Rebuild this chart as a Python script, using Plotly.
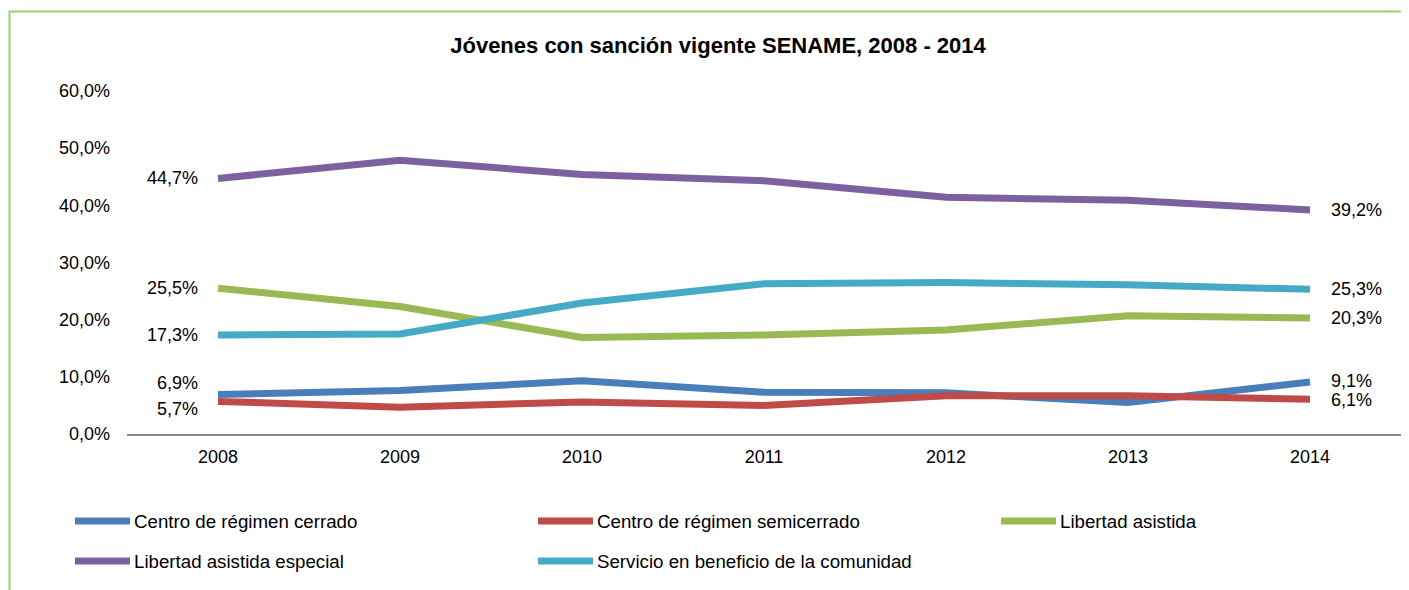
import plotly.graph_objects as go

years = ["2008", "2009", "2010", "2011", "2012", "2013", "2014"]
names = ["Centro de régimen cerrado", "Centro de régimen semicerrado", "Libertad asistida",
         "Libertad asistida especial", "Servicio en beneficio de la comunidad"]
cerrado = [6.9, 7.6, 9.3, 7.3, 7.2, 5.5, 9.1]
semicerrado = [5.7, 4.7, 5.6, 5.0, 6.7, 6.7, 6.1]
libertad = [25.5, 22.3, 16.9, 17.3, 18.2, 20.7, 20.3]
libertad_esp = [44.7, 47.9, 45.4, 44.3, 41.4, 40.9, 39.2]
servicio = [17.3, 17.5, 22.9, 26.3, 26.5, 26.1, 25.3]
series = [cerrado, semicerrado, libertad, libertad_esp, servicio]
colors = ["#4A7EBB", "#BE4B48", "#98B954", "#7D60A0", "#46AAC5"]
y_ticks = [0, 10, 20, 30, 40, 50, 60]
title = "Jóvenes con sanción vigente SENAME, 2008 - 2014"

FONT = "Liberation Sans, Arial, sans-serif"
OFF = 8  # page body margin
W, H = 1401, 582
L, R = 127 - OFF, W - (1401 - OFF)
T = 91 - OFF
B = H - (434 - OFF)
pw, ph = W - L - R, H - T - B

def px2paper_x(px):
    return (px - OFF - L) / pw

def px2paper_y(py):
    return (H - B - (py - OFF)) / ph

def fmt(v):
    return f"{v:.1f}".replace(".", ",") + "%"

fig = go.Figure()
for name, vals, col in zip(names, series, colors):
    fig.add_trace(go.Scatter(x=years, y=vals, mode="lines", name=name,
                             line=dict(color=col, width=7), showlegend=False))

annotations = []
# start/end value labels (x given as category index)
start_shift = [12, -8, 0, 0, 0]
end_shift = [1, -1, 0, 0, 0]
last = len(years) - 1
for vals, ys0, ys1 in zip(series, start_shift, end_shift):
    annotations.append(dict(x=0, y=vals[0], xref="x", yref="y", text=fmt(vals[0]),
                            showarrow=False, xanchor="right", xshift=-18, yshift=ys0,
                            font=dict(family=FONT, size=18, color="#000")))
    annotations.append(dict(x=last, y=vals[-1], xref="x", yref="y", text=fmt(vals[-1]),
                            showarrow=False, xanchor="left", xshift=19, yshift=ys1,
                            font=dict(family=FONT, size=18, color="#000")))

# manual legend
shapes = []
col_x = [75, 538, 1001]
row_y = [521, 561]
for i, (name, col) in enumerate(zip(names, colors)):
    cx = col_x[i % 3]
    ry = row_y[i // 3]
    shapes.append(dict(type="line", xref="paper", yref="paper",
                       x0=px2paper_x(cx), x1=px2paper_x(cx + 55),
                       y0=px2paper_y(ry), y1=px2paper_y(ry),
                       line=dict(color=col, width=7)))
    annotations.append(dict(x=px2paper_x(cx + 57), y=px2paper_y(ry), xref="paper", yref="paper",
                            text=name, showarrow=False, xanchor="left", yanchor="middle",
                            font=dict(family=FONT, size=18.7, color="#000")))

# green frame
shapes.append(dict(type="rect", xref="paper", yref="paper",
                   x0=px2paper_x(9.5), x1=px2paper_x(1430),
                   y0=px2paper_y(11.5), y1=px2paper_y(620),
                   line=dict(color="#9AD36B", width=2), fillcolor="rgba(0,0,0,0)"))

fig.update_layout(
    width=W, height=H,
    margin=dict(l=L, r=R, t=T, b=B),
    paper_bgcolor="white", plot_bgcolor="white",
    font=dict(family=FONT, size=18, color="#000"),
    title=dict(text="<b>" + title + "</b>", x=px2paper_x(718), xref="paper", xanchor="center",
               y=1 - (45 - OFF) / H, yref="container", yanchor="middle",
               font=dict(family=FONT, size=22, color="#000")),
    xaxis=dict(type="category", range=[-0.5, 6.5], showline=True, linecolor="#868686", linewidth=2,
               showgrid=False, zeroline=False, ticks="", ticklabelstandoff=5,
               tickfont=dict(family=FONT, size=18, color="#000")),
    yaxis=dict(range=[0, 60], tickvals=y_ticks, ticktext=[fmt(v) for v in y_ticks],
               showgrid=False, zeroline=False, showline=False, ticks="", ticklabelstandoff=16,
               tickfont=dict(family=FONT, size=18, color="#000")),
    annotations=annotations, shapes=shapes, showlegend=False,
)

fig.write_html("out.html")
